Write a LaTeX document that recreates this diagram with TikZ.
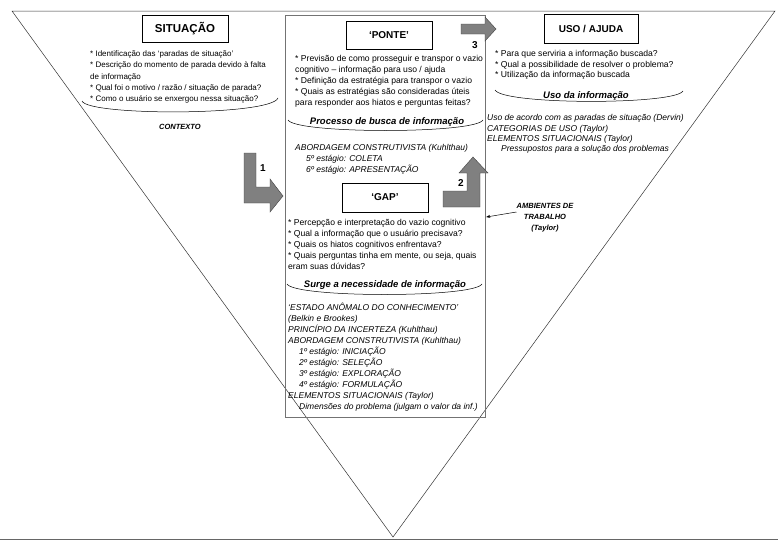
\documentclass[tikz,border=0pt]{standalone}
\usepackage{fontspec}
\setmainfont{Liberation Sans}
\usetikzlibrary{arrows.meta}

\tikzset{
  caixa/.style={draw, line width=0.6pt, inner sep=0pt},
  bigbox/.style={draw=black!55, line width=1.2pt, inner sep=0pt},
  titulo/.style={font=\bfseries\fontsize{10}{12}\selectfont},
  txt/.style={anchor=north west, inner sep=0pt, align=left, font=\fontsize{8.6}{11}\selectfont},
  ita/.style={txt, font=\itshape\fontsize{8.5}{11}\selectfont},
  cabeca/.style={inner sep=0pt, font=\bfseries\itshape\fontsize{9.5}{11}\selectfont},
  seta/.style={fill=black!50, draw=black!75, line width=0.4pt},
  num/.style={inner sep=0pt, font=\bfseries\fontsize{10}{12}\selectfont},
  arco/.style={line width=0.5pt}
}

\begin{document}
\begin{tikzpicture}[x=1pt, y=-1pt]
  \useasboundingbox (0,0) rectangle (778,541);
  % funil
  \draw[black!80, line width=0.5pt] (12,11) -- (775,11) -- (393,537) -- cycle;
  \draw[black!60, line width=0.9pt] (0,539.5) -- (778,539.5);
  \node[bigbox, minimum width=200pt, minimum height=402pt, anchor=north west] (meio) at (285,15) {};

  % situacao
  \node[caixa, titulo, font=\bfseries\fontsize{11.5}{13}\selectfont, minimum width=86pt, minimum height=27pt] (situ) at (185,28.5) {SITUAÇÃO};
  \node[txt, font=\fontsize{8}{11.3}\selectfont] (situtxt) at (90,50.5) {* Identificação das ‘paradas de situação’\\
    * Descrição do momento de parada devido à falta\\
    de informação\\
    * Qual foi o motivo / razão / situação de parada?\\
    * Como o usuário se enxergou nessa situação?};
  \draw[arco] (82,101) .. controls (88,116) and (271,116) .. (278,98);
  \node[inner sep=0pt, font=\bfseries\itshape\fontsize{7.5}{9}\selectfont] (contexto) at (180,127) {CONTEXTO};

  % ponte
  \node[caixa, titulo, minimum width=86pt, minimum height=28pt] (ponte) at (389,35) {‘PONTE’};
  \node[txt] (pontetxt) at (295,55.5) {* Previsão de como prosseguir e transpor o vazio\\
    cognitivo – informação para uso / ajuda\\
    * Definição da estratégia para transpor o vazio\\
    * Quais as estratégias são consideradas úteis\\
    para responder aos hiatos e perguntas feitas?};
  \node[cabeca] (busca) at (387,122) {Processo de busca de informação};
  \draw[arco] (288,120) .. controls (296,134) and (475,134) .. (483,120);
  \node[ita] (buscatxt) at (295,144.5) {ABORDAGEM CONSTRUTIVISTA (Kuhlthau)\\
    \hspace*{11pt}5º estágio: COLETA\\
    \hspace*{11pt}6º estágio: APRESENTAÇÃO};

  % gap
  \node[caixa, titulo, minimum width=86pt, minimum height=29pt] (gap) at (385,197.5) {‘GAP’};
  \node[txt] (gaptxt) at (288,219.5) {* Percepção e interpretação do vazio cognitivo\\
    * Qual a informação que o usuário precisava?\\
    * Quais os hiatos cognitivos enfrentava?\\
    * Quais perguntas tinha em mente, ou seja, quais\\
    eram suas dúvidas?};
  \node[cabeca] (surge) at (385,285) {Surge a necessidade de informação};
  \draw[arco] (287,284) .. controls (295,298) and (474,298) .. (482,284);
  \node[ita] (surgetxt) at (288,303) {‘ESTADO ANÔMALO DO CONHECIMENTO’\\
    (Belkin e Brookes)\\
    PRINCÍPIO DA INCERTEZA (Kuhlthau)\\
    ABORDAGEM CONSTRUTIVISTA (Kuhlthau)\\
    \hspace*{11pt}1º estágio: INICIAÇÃO\\
    \hspace*{11pt}2º estágio: SELEÇÃO\\
    \hspace*{11pt}3º estágio: EXPLORAÇÃO\\
    \hspace*{11pt}4º estágio: FORMULAÇÃO\\
    ELEMENTOS SITUACIONAIS (Taylor)\\
    \hspace*{11pt}Dimensões do problema (julgam o valor da inf.)};

  % uso / ajuda
  \node[caixa, titulo, minimum width=94pt, minimum height=29pt] (uso) at (591,28.5) {USO / AJUDA};
  \node[txt, font=\fontsize{8.6}{10.5}\selectfont] (usotxt) at (495,50.5) {* Para que serviria a informação buscada?\\
    * Qual a possibilidade de resolver o problema?\\
    * Utilização da informação buscada};
  \node[cabeca] (usoinf) at (586,96) {Uso da informação};
  \draw[arco] (495,90) .. controls (503,105) and (675,105) .. (683,91);
  \node[ita, font=\itshape\fontsize{8.5}{10.2}\selectfont] (usoitxt) at (487,114.5) {Uso de acordo com as paradas de situação (Dervin)\\
    CATEGORIAS DE USO (Taylor)\\
    ELEMENTOS SITUACIONAIS (Taylor)\\
    \hspace*{14pt}Pressupostos para a solução dos problemas};

  % ambientes
  \node[inner sep=0pt, align=center, font=\bfseries\itshape\fontsize{7.5}{11}\selectfont] (amb) at (545,218) {AMBIENTES DE\\TRABALHO\\(Taylor)};
  \coordinate (ambtip) at (meio.east |- 0,217);
  \draw[-{Stealth[length=4pt,width=3pt]}, line width=0.5pt] ([shift={(0,-6)}]amb.west) -- (ambtip);

  % setas 1, 2, 3
  \filldraw[seta] (244,153) -- (256,153) -- (256,187) -- (270,187) -- (270,179) -- (283,196)
    -- (270,212) -- (270,203) -- (244,203) -- cycle;
  \node[num] (n1) at (263,168) {1};
  \filldraw[seta] (443,191) -- (467,191) -- (467,173) -- (459,173) -- (473,157) -- (488,173)
    -- (480,173) -- (480,207) -- (443,207) -- cycle;
  \node[num] (n2) at (461,183) {2};
  \filldraw[seta] (461,24) -- (485,24) -- (485,17) -- (496,29) -- (485,41) -- (485,34)
    -- (461,34) -- cycle;
  \node[num] (n3) at (475,45) {3};
\end{tikzpicture}
\end{document}
